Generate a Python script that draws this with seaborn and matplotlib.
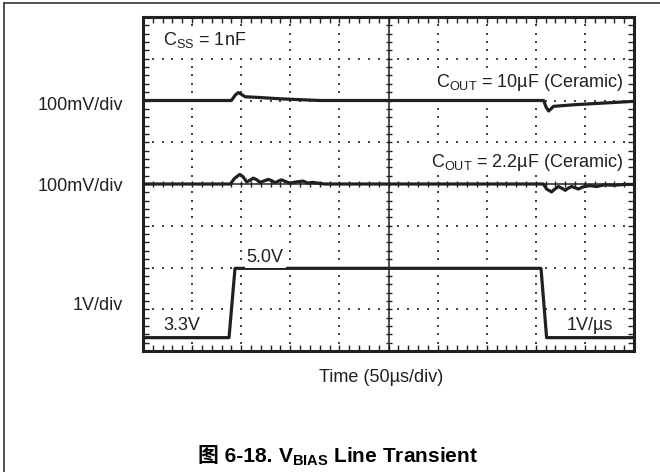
import numpy as np
import pandas as pd
import matplotlib
matplotlib.use('Agg')
import matplotlib.pyplot as plt
from matplotlib.lines import Line2D
import seaborn as sns

# %%
# Trace data read off the scope shot (time in us, level in graticule divisions)
t_10u = [0, 90, 94, 97, 100, 104, 120, 140, 160, 180, 200, 300, 408, 410.5, 413, 415.5, 418, 440, 470, 500]
v_10u = [6.0, 6.0, 6.13, 6.19, 6.15, 6.09, 6.07, 6.04, 6.02, 6.0, 6.0, 6.0, 6.0, 5.84, 5.75, 5.8, 5.86, 5.9, 5.94, 5.98]

t_2u2 = [0, 89, 93, 98.5, 102, 105.6, 109, 112.3, 116, 119, 123, 127.6, 131, 134.4, 138, 141, 145, 149.7,
         156, 163, 168, 173, 178, 185, 200, 250, 300, 350, 400, 407.6, 411, 416, 419.5, 423, 426.5, 430,
         433, 436.5, 440, 443.3, 448, 455, 462, 470, 480, 490, 500]
v_2u2 = [4.0, 4.0, 4.13, 4.23, 4.17, 4.05, 4.09, 4.14, 4.1, 4.04, 4.07, 4.11, 4.08, 4.03, 4.07, 4.1, 4.06, 4.02,
         4.05, 4.07, 4.02, 4.04, 4.02, 4.0, 4.0, 4.0, 4.0, 4.0, 4.0, 4.0, 3.88, 3.81, 3.88, 3.94, 3.9, 3.85,
         3.9, 3.94, 3.91, 3.88, 3.93, 3.96, 3.94, 3.98, 3.97, 3.99, 3.99]

t_vbias = [0, 87.6, 93.7, 405.3, 411, 500]
v_vbias = [0.32, 0.32, 1.98, 1.98, 0.32, 0.32]

scale_labels = ['100mV/div', '100mV/div', '1V/div']
scale_label_y = [5.77, 3.84, 0.98]

# %%
df = pd.concat([
    pd.DataFrame({'t': t_10u, 'v': v_10u, 'trace': 'COUT 10uF'}),
    pd.DataFrame({'t': t_2u2, 'v': v_2u2, 'trace': 'COUT 2.2uF'}),
    pd.DataFrame({'t': t_vbias, 'v': v_vbias, 'trace': 'VBIAS'}),
], ignore_index=True)

# %%
sns.set_theme(style='white')
plt.rcParams['font.family'] = ['Liberation Sans', 'Noto Sans CJK SC', 'DejaVu Sans']
plt.rcParams['mathtext.fontset'] = 'custom'
plt.rcParams['mathtext.rm'] = 'Liberation Sans'
plt.rcParams['mathtext.bf'] = 'Liberation Sans:bold'
ink = '#231f20'

fig = plt.figure(figsize=(6.6, 4.72), dpi=100)
ax = fig.add_axes([143 / 660, 1 - 351 / 472, 491 / 660, 334 / 472])

# dotted graticule: one dot per minor division
xs_minor = np.arange(0, 501, 10)
ys_minor = np.arange(0, 8.01, 0.2)
for gx in [50, 100, 150, 200, 300, 350, 400, 450]:
    ax.scatter(np.full(len(ys_minor), gx), ys_minor, s=3, color='#444444', marker='s', linewidths=0, zorder=1)
for gy in [1, 2, 3, 5, 6, 7]:
    ax.scatter(xs_minor, np.full(len(xs_minor), gy), s=3, color='#444444', marker='s', linewidths=0, zorder=1)

# centre cross with its own ticks
ax.axvline(250, color=ink, lw=1.1, zorder=2)
ax.axhline(4, color=ink, lw=1.1, zorder=2)
ax.plot(np.full(len(ys_minor), 250), ys_minor, ls='none', marker='_', ms=5, mew=1.0, color=ink, zorder=2)
ax.plot(xs_minor, np.full(len(xs_minor), 4), ls='none', marker='|', ms=5, mew=1.0, color=ink, zorder=2)

sns.lineplot(data=df, x='t', y='v', hue='trace', palette=[ink] * 3, estimator=None, sort=False,
             legend=False, lw=2.3, ax=ax, zorder=3)

ax.set_xlim(0, 500)
ax.set_ylim(0, 8)
ax.set_xticks(np.arange(0, 501, 50))
ax.set_xticks(xs_minor, minor=True)
ax.set_yticks(np.arange(0, 8.01, 1))
ax.set_yticks(ys_minor, minor=True)
ax.set_xticklabels([])
ax.set_yticklabels([])
ax.set_xlabel('')
ax.set_ylabel('')
ax.tick_params(which='both', direction='in', top=True, right=True, bottom=True, left=True,
               length=4.5, width=1.0, color=ink)
for s in ax.spines.values():
    s.set_linewidth(2.2)
    s.set_color(ink)

# %%
fs = 13
mask = dict(fc='white', ec='none', pad=1.5)
for lab, yy in zip(scale_labels, scale_label_y):
    ax.text(-20, yy, lab, ha='right', va='baseline', fontsize=fs, color=ink, clip_on=False)

ax.text(20, 7.33, r'C$_{\mathrm{SS}}$ = 1nF', ha='left', va='baseline', fontsize=fs, color=ink, bbox=mask, zorder=4)
ax.text(488.8, 6.32, r'C$_{\mathrm{OUT}}$ = 10µF (Ceramic)', ha='right', va='baseline', fontsize=fs, color=ink,
        bbox=mask, zorder=4)
ax.text(488.8, 4.41, r'C$_{\mathrm{OUT}}$ = 2.2µF (Ceramic)', ha='right', va='baseline', fontsize=fs, color=ink,
        bbox=mask, zorder=4)
ax.text(105.6, 2.14, '5.0V', ha='left', va='baseline', fontsize=fs, color=ink, bbox=mask, zorder=4)
ax.text(20.4, 0.50, '3.3V', ha='left', va='baseline', fontsize=fs, color=ink, bbox=mask, zorder=4)
ax.text(478.6, 0.50, '1V/µs', ha='right', va='baseline', fontsize=fs, color=ink, bbox=mask, zorder=4)

fig.text(380.8 / 660, 1 - 381.7 / 472, 'Time (50µs/div)', ha='center', va='baseline', fontsize=fs, color=ink)

# caption: CJK part as plain text, rest as mathtext (for the subscript), placed side by side
cap_y = 1 - 462 / 472
cap_fs = 15
t1 = fig.text(0, cap_y, '图 6-18. ', ha='left', va='baseline', fontsize=cap_fs, fontweight='bold', color='black')
t2 = fig.text(0, cap_y, r'V$_{\mathbf{BIAS}}$ Line Transient', ha='left', va='baseline', fontsize=cap_fs,
              fontweight='bold', color='black')
fig.canvas.draw()
r = fig.canvas.get_renderer()
w1 = t1.get_window_extent(r).width
w2 = t2.get_window_extent(r).width
x0 = 337.5 - (w1 + w2) / 2
t1.set_x(x0 / 660)
t2.set_x((x0 + w1) / 660)

# frame around the figure (top and left edges are visible in the source)
fig.add_artist(Line2D([4 / 660, 1], [1 - 3 / 472, 1 - 3 / 472], transform=fig.transFigure, color='#333333', lw=1.2))
fig.add_artist(Line2D([4 / 660, 4 / 660], [0, 1 - 3 / 472], transform=fig.transFigure, color='#333333', lw=1.2))

fig.savefig('out.png', dpi=100)
plt.close()
